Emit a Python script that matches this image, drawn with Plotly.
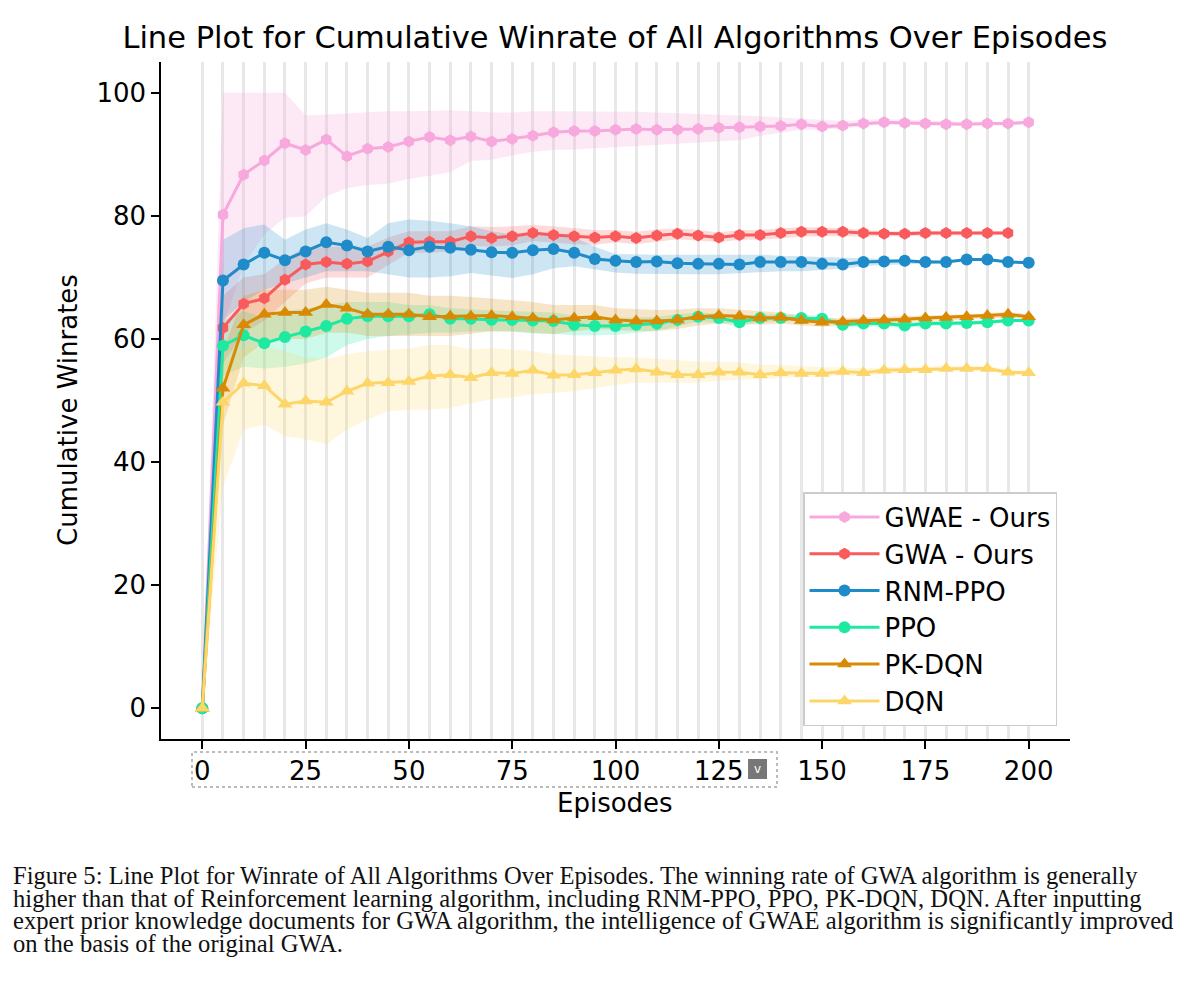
import plotly.graph_objects as go

# Episodes (every 5)
episodes = list(range(0, 201, 5))

# mean cumulative winrates
gwae = [0, 80.2, 86.7, 89.0, 91.8, 90.7, 92.4, 89.7, 90.9, 91.2,
        92.1, 92.8, 92.3, 92.9, 92.1, 92.5, 93.0, 93.6, 93.8, 93.8,
        94.0, 94.1, 94.0, 94.0, 94.1, 94.3, 94.4, 94.5, 94.6, 94.9,
        94.5, 94.7, 95.0, 95.2, 95.1, 95.0, 94.9, 94.9, 95.0, 95.0, 95.2]
gwa = [0, 61.8, 65.7, 66.6, 69.6, 72.1, 72.5, 72.2, 72.6, 74.2,
       75.7, 75.8, 75.8, 76.7, 76.4, 76.7, 77.2, 76.9, 76.7, 76.5,
       76.7, 76.4, 76.8, 77.1, 76.8, 76.5, 76.9, 76.9, 77.2, 77.4,
       77.4, 77.4, 77.2, 77.1, 77.1, 77.2, 77.2, 77.2, 77.2, 77.2]
rnm_ppo = [0, 69.5, 72.1, 74.0, 72.8, 74.2, 75.7, 75.2, 74.2, 75.0,
           74.4, 75.0, 74.8, 74.5, 74.1, 74.0, 74.4, 74.6, 74.0, 73.0,
           72.7, 72.5, 72.6, 72.3, 72.2, 72.2, 72.1, 72.5, 72.5, 72.5,
           72.2, 72.1, 72.5, 72.6, 72.7, 72.5, 72.5, 72.9, 72.9, 72.5, 72.4]
ppo = [0, 58.9, 60.6, 59.3, 60.3, 61.2, 62.1, 63.3, 63.7, 63.7,
       63.7, 64.0, 63.3, 63.3, 63.1, 63.1, 63.0, 62.9, 62.3, 62.1,
       62.1, 62.3, 62.5, 63.1, 63.6, 63.4, 62.7, 63.4, 63.4, 63.4,
       63.3, 62.3, 62.5, 62.5, 62.2, 62.5, 62.5, 62.6, 62.7, 63.0, 63.0]
pk_dqn = [0, 52.0, 62.3, 64.0, 64.3, 64.3, 65.6, 65.0, 64.0, 64.0,
          64.0, 63.6, 63.7, 63.7, 63.8, 63.6, 63.4, 63.1, 63.4, 63.6,
          63.1, 62.9, 62.9, 63.1, 63.6, 63.8, 63.7, 63.4, 63.5, 63.0,
          62.7, 62.8, 63.0, 63.1, 63.2, 63.4, 63.5, 63.6, 63.8, 64.0, 63.6]
dqn = [0, 49.7, 52.8, 52.4, 49.4, 49.9, 49.7, 51.5, 52.8, 52.9,
       53.1, 54.0, 54.2, 53.7, 54.5, 54.4, 54.9, 54.1, 54.2, 54.5,
       54.9, 55.1, 54.6, 54.2, 54.2, 54.6, 54.6, 54.2, 54.5, 54.4,
       54.4, 54.7, 54.5, 54.9, 55.0, 55.0, 55.2, 55.2, 55.2, 54.6, 54.5]

# shaded band edges (upper / lower)
gwae_hi = [0, 100, 100, 100, 100, 96.3, 96.5, 96.6, 96.8, 97.0,
           97.0, 97.1, 97.1, 97.0, 96.8, 96.8, 97.0, 97.0, 97.0, 97.0,
           97.0, 96.9, 96.8, 96.7, 96.6, 96.5, 96.4, 96.2, 96.0, 95.8,
           95.5, 95.4, 95.6, 95.7, 95.6, 95.5, 95.3, 95.3, 95.3, 95.3, 95.5]
gwae_lo = [0, 62, 72, 77, 79.7, 79.9, 83.2, 84.5, 85.0, 85.2,
           86.0, 86.5, 87.1, 88.9, 89.1, 89.8, 90.4, 90.7, 90.8, 91.0,
           91.2, 91.4, 91.6, 91.8, 92.0, 92.1, 92.3, 93.0, 93.5, 94.0,
           94.0, 94.2, 94.6, 94.8, 94.8, 94.7, 94.6, 94.6, 94.7, 94.7, 94.9]
gwa_hi = [0, 67, 70, 70.5, 73, 75, 75, 75, 75, 76.5,
          77.5, 77.5, 77.5, 78.3, 78.2, 78.3, 78.5, 78.3, 78.0, 77.7,
          77.7, 77.4, 77.8, 78.0, 77.7, 77.3, 77.7, 77.7, 78.0, 78.2,
          78.1, 78.0, 77.7, 77.5, 77.5, 77.6, 77.5, 77.5, 77.5, 77.5]
gwa_lo = [0, 56, 61, 63, 66, 69, 70, 70, 70, 72,
          74, 74, 74.2, 75.2, 75.0, 75.2, 75.9, 75.6, 75.4, 75.3,
          75.7, 75.4, 75.8, 76.2, 76.0, 75.7, 76.1, 76.1, 76.4, 76.6,
          76.7, 76.8, 76.7, 76.7, 76.7, 76.8, 76.9, 76.9, 76.9, 76.9]
rnm_ppo_hi = [0, 76.1, 78.0, 78.6, 76.1, 77.8, 78.8, 77.8, 76.4, 78.8,
              79.4, 79.2, 78.8, 78.3, 77.5, 77.0, 77.0, 77.0, 76.5, 75.0,
              73.8, 73.7, 73.7, 73.7, 73.7, 73.7, 73.7, 73.7, 73.5, 73.4,
              73.3, 73.2, 73.0, 73.0, 72.9, 72.8, 72.7, 73.0, 73.0, 72.7, 72.6]
rnm_ppo_lo = [0, 63, 66, 68, 69, 70, 71, 71, 71, 70.5,
              70, 70, 70.2, 70.7, 70.3, 69.9, 70.5, 71.5, 71.8, 71.3,
              70.8, 70.6, 70.5, 70.5, 70.5, 70.5, 70.6, 70.8, 71.0, 71.0,
              71.2, 71.4, 71.8, 72.0, 72.2, 72.2, 72.3, 72.7, 72.7, 72.3, 72.2]
ppo_hi = [0, 63, 64.5, 63.5, 64.5, 65, 65.5, 66, 66, 66,
          65.5, 65.5, 65, 64.8, 64.6, 64.5, 64.4, 64.3, 63.8, 63.6,
          63.5, 63.5, 63.6, 64.0, 64.3, 64.1, 63.5, 64.0, 64.0, 63.9,
          63.8, 62.9, 63.0, 63.0, 62.7, 62.9, 62.9, 63.0, 63.0, 63.3, 63.3]
ppo_lo = [0, 54, 55.5, 55.2, 55.5, 56, 57, 59, 60, 60.5,
          60.7, 61, 61, 61.2, 61.3, 61.2, 60.9, 60.8, 60.6, 60.6,
          60.7, 61.0, 61.3, 62.1, 62.8, 62.6, 62.0, 62.8, 62.8, 62.9,
          62.9, 61.8, 62.0, 62.0, 61.8, 62.1, 62.1, 62.2, 62.4, 62.7, 62.7]
pk_dqn_hi = [0, 58, 67, 68, 68, 68, 68.5, 68, 67.5, 67.5,
             67.5, 67, 67, 66.8, 66.6, 66.3, 66, 65.5, 65.5, 65.5,
             65, 64.8, 64.7, 64.8, 65, 65, 64.8, 64.5, 64.3, 63.8,
             63.4, 63.4, 63.5, 63.6, 63.6, 63.8, 63.9, 64.0, 64.2, 64.4, 64.0]
pk_dqn_lo = [0, 46, 57, 59.5, 60, 60, 61, 61, 60.5, 60.5,
             60.5, 60.5, 60.5, 60.8, 61.2, 61.2, 61.0, 60.8, 61.2, 61.6,
             61.5, 61.3, 61.3, 61.6, 62.2, 62.5, 62.5, 62.3, 62.5, 62.2,
             62.0, 62.1, 62.4, 62.5, 62.7, 62.9, 63.0, 63.1, 63.3, 63.5, 63.2]
dqn_hi = [0, 56, 58.5, 58.8, 58, 57, 56.8, 57.5, 58, 58.3,
          58.5, 59, 59, 58.3, 58.5, 58.3, 58, 57.5, 57.3, 57.2,
          57, 57, 56.8, 56.5, 56.3, 56.3, 56.2, 55.8, 55.8, 55.6,
          55.4, 55.4, 55.2, 55.4, 55.5, 55.5, 55.6, 55.6, 55.6, 55.0, 54.9]
dqn_lo = [0, 36, 45.3, 46.1, 44.2, 43.7, 42.9, 45.3, 46.9, 48.3,
          48.5, 48.5, 48.8, 49.5, 50.2, 50.5, 51, 51.2, 51.5, 52,
          52.5, 52.9, 52.9, 52.9, 52.9, 53.2, 53.4, 53.4, 53.7, 53.8,
          53.9, 54.1, 54.0, 54.4, 54.5, 54.6, 54.8, 54.8, 54.8, 54.2, 54.1]

names = ["GWAE - Ours", "GWA - Ours", "RNM-PPO", "PPO", "PK-DQN", "DQN"]
means = [gwae, gwa, rnm_ppo, ppo, pk_dqn, dqn]
uppers = [gwae_hi, gwa_hi, rnm_ppo_hi, ppo_hi, pk_dqn_hi, dqn_hi]
lowers = [gwae_lo, gwa_lo, rnm_ppo_lo, ppo_lo, pk_dqn_lo, dqn_lo]
colors = ["#F7A8DC", "#F95A5C", "#1F8BC9", "#1DE9A0", "#D98A05", "#FDD66A"]
symbols = ["hexagon", "hexagon", "circle", "circle", "triangle-up", "triangle-up"]
sizes = [12, 12, 12, 12, 13, 13]

caption_lines = [
    "Figure 5: Line Plot for Winrate of All Algorithms Over Episodes. The winning rate of GWA algorithm is generally",
    "higher than that of Reinforcement learning algorithm, including RNM-PPO, PPO, PK-DQN, DQN. After inputting",
    "expert prior knowledge documents for GWA algorithm, the intelligence of GWAE algorithm is significantly improved",
    "on the basis of the original GWA.",
]


def rgba(hex_color, a):
    h = hex_color.lstrip("#")
    r, g, b = int(h[0:2], 16), int(h[2:4], 16), int(h[4:6], 16)
    return f"rgba({r},{g},{b},{a})"


fig = go.Figure()

# std bands first so the lines sit on top
for name, m, hi, lo, c in zip(names, means, uppers, lowers, colors):
    xs = episodes[:len(m)]
    fig.add_trace(go.Scatter(
        x=xs + xs[::-1], y=hi + lo[::-1], fill="toself",
        fillcolor=rgba(c, 0.25 if name.startswith("GWAE") else 0.22),
        line=dict(width=0), mode="lines", showlegend=False, hoverinfo="skip"
    ))

for name, m, c, sym, sz in zip(names, means, colors, symbols, sizes):
    fig.add_trace(go.Scatter(
        x=episodes[:len(m)], y=m, name=name, mode="lines+markers",
        line=dict(color=c, width=3),
        marker=dict(symbol=sym, size=sz, color=c, line=dict(width=0))
    ))

font = "DejaVu Sans"
fs = 26
axis_common = dict(
    showline=True, linecolor="black", linewidth=1.5,
    ticks="outside", ticklen=8, tickwidth=1.5, tickcolor="black",
    tickfont=dict(family=font, size=fs, color="black"),
    zeroline=False, mirror=False,
)

# the page adds an 8px body margin, so the margins are trimmed by 8
fig.update_layout(
    width=1200, height=985,
    margin=dict(l=153, r=138, t=54, b=254),
    paper_bgcolor="white", plot_bgcolor="white",
    font=dict(family=font, color="black"),
    title=dict(text="Line Plot for Cumulative Winrate of All Algorithms Over Episodes",
               x=0.5058, xanchor="center", y=0.9706, yanchor="middle",
               font=dict(family=font, size=30.5, color="black")),
    xaxis=dict(range=[-10, 210], tickvals=[0, 25, 50, 75, 100, 125, 150, 175, 200],
               showgrid=True, gridcolor="#e8e8e8", gridwidth=2.5,
               minor=dict(tickvals=episodes, showgrid=True, gridcolor="#e8e8e8",
                          gridwidth=2.5, ticks=""),
               **axis_common),
    yaxis=dict(range=[-5, 105], tickvals=[0, 20, 40, 60, 80, 100], showgrid=False,
               **axis_common),
    legend=dict(x=0.9857, xanchor="right", y=0.0192, yanchor="bottom",
                bgcolor="white", bordercolor="#cccccc", borderwidth=1.5,
                itemwidth=70,
                font=dict(family=font, size=fs, color="black")),
)

# axis titles
fig.add_annotation(text="Cumulative Winrates", xref="paper", yref="paper",
                   x=-0.1023, y=0.486, xanchor="center", yanchor="middle",
                   textangle=-90, showarrow=False,
                   font=dict(family=font, size=fs, color="black"))
fig.add_annotation(text="Episodes", xref="paper", yref="paper",
                   x=0.4994, y=-0.0945, xanchor="center", yanchor="middle",
                   showarrow=False,
                   font=dict(family=font, size=fs, color="black"))

# dotted selection box round the tick labels (screenshot artefact)
fig.add_shape(type="rect", xref="paper", yref="paper",
              x0=0.0341, x1=0.6777, y0=-0.0709, y1=-0.0192,
              line=dict(color="#bbbbbb", width=2, dash="dot"))
fig.add_shape(type="rect", xref="paper", yref="paper",
              x0=0.6458, x1=0.6667, y0=-0.0591, y1=-0.0295,
              fillcolor="#777777", line=dict(width=0))
fig.add_annotation(text="v", xref="paper", yref="paper", x=0.6562, y=-0.0443,
                   xanchor="center", yanchor="middle", showarrow=False,
                   font=dict(family=font, size=12, color="white"))

# figure caption under the chart
caption_y = [875, 898, 920, 943]
for line, py in zip(caption_lines, caption_y):
    fig.add_annotation(text=line, xref="paper", yref="paper",
                       x=(11 - 161) / 909, y=(739 - py) / 677,
                       xanchor="left", yanchor="middle", showarrow=False,
                       font=dict(family="Liberation Serif", size=24.6, color="#111111"))

fig.write_html("out.html")
